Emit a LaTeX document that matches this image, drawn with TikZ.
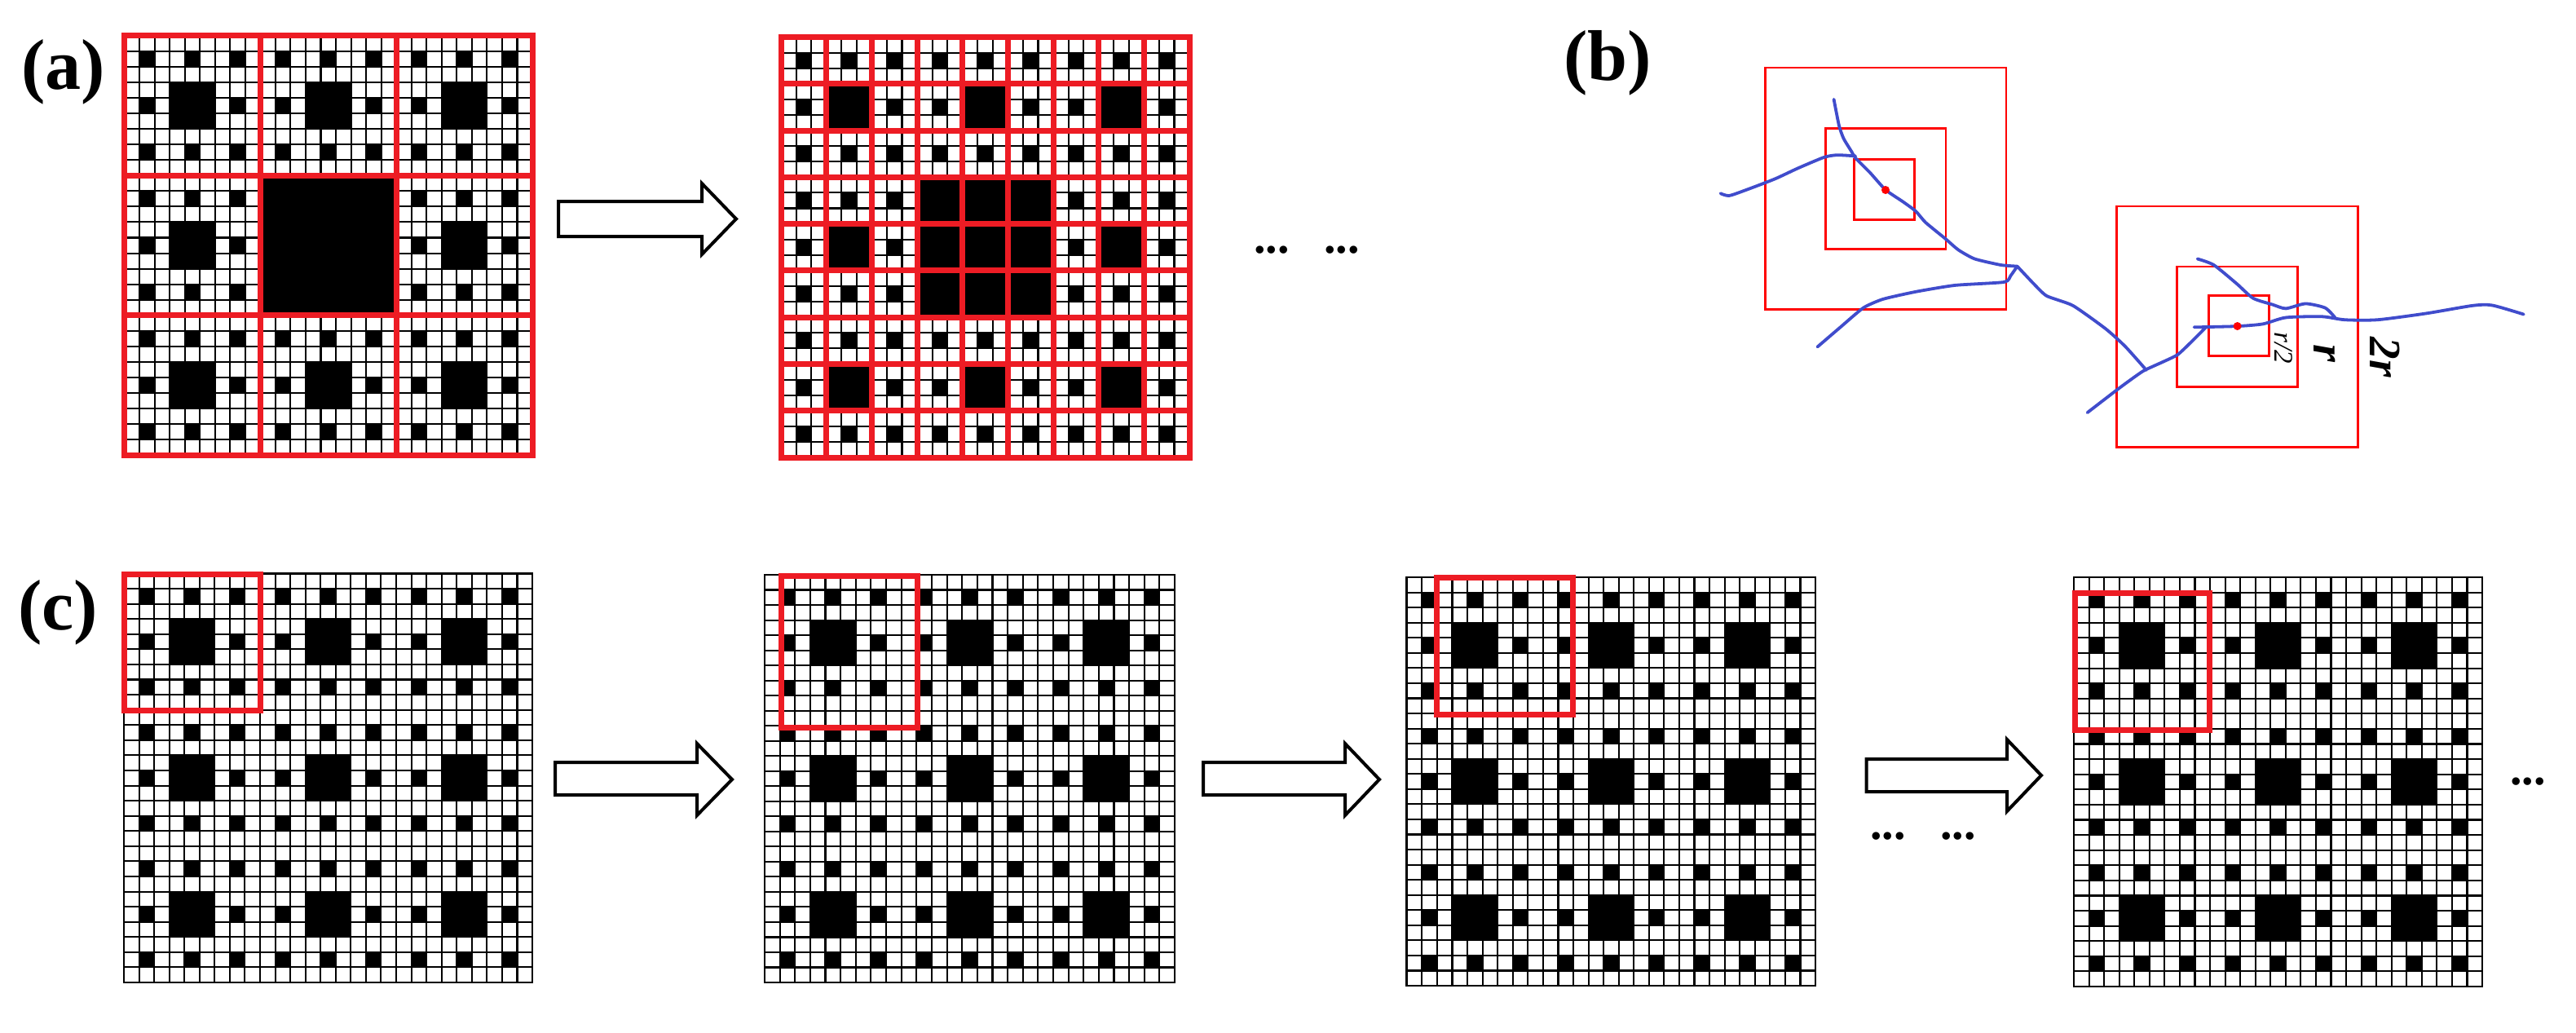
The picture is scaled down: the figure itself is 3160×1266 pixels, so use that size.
\documentclass[tikz,border=0pt]{standalone}
\usepackage{fontspec}
\setmainfont{Liberation Serif}
\definecolor{gridred}{RGB}{237,28,36}
\definecolor{curveblue}{RGB}{64,76,204}
\tikzset{
  gridline/.style={black,line width=1.05pt},
  gridframe/.style={black,line width=1.4pt},
  redthick/.style={gridred,line width=3.5pt,line join=miter},
  redthin/.style={red,line width=1.4pt},
  curve/.style={curveblue,line width=1.9pt,line cap=round,line join=round},
  blockarrow/.style={draw=black,fill=white,line width=2pt,line join=miter,miter limit=4},
  panellabel/.style={inner sep=0pt,anchor=base,font=\fontsize{44}{44}\selectfont\bfseries},
  dotstext/.style={inner sep=0pt,anchor=base,font=\fontsize{29}{29}\selectfont\bfseries},
}
% x0 y0 x1 y1 : carpet of 27 x 27 cells with squares of size 1 and 3
\newcommand\carpetgrid[4]{%
  \pgfmathsetlengthmacro\cellw{(#3-#1)/27*0.5pt}%
  \pgfmathsetlengthmacro\cellh{(#4-#2)/27*0.5pt}%
  \begin{scope}[shift={(#1,#2)},x=\cellw,y=-\cellh]
    \fill[white] (0,0) rectangle (27,27);
    \foreach \i in {1,4,...,25}{\foreach \j in {1,4,...,25}{\fill (\i,\j) rectangle ++(1,1);}}
    \foreach \i in {3,12,21}{\foreach \j in {3,12,21}{\fill (\i,\j) rectangle ++(3,3);}}
    \foreach \i in {1,...,26}{\draw[gridline] (\i,0) -- (\i,27); \draw[gridline] (0,\i) -- (27,\i);}
    \draw[gridframe] (0,0) rectangle (27,27);
  \end{scope}}
% x0 y0 x1 y1 n : n x n red grid
\newcommand\redgrid[5]{%
  \pgfmathsetlengthmacro\cellw{(#3-#1)/#5*0.5pt}%
  \pgfmathsetlengthmacro\cellh{(#4-#2)/#5*0.5pt}%
  \begin{scope}[shift={(#1,#2)},x=\cellw,y=-\cellh]
    \foreach \i in {1,...,\numexpr#5-1\relax}{\draw[redthick] (\i,0) -- (\i,#5); \draw[redthick] (0,\i) -- (#5,\i);}
    \draw[redthick] (0,0) rectangle (#5,#5);
  \end{scope}}
% left neck tip tailtop tailbottom headtop headbottom
\newcommand\bigarrow[7]{%
  \draw[blockarrow] (#1,#4) -- (#2,#4) -- (#2,#6) -- (#3,{(#6+#7)/2}) -- (#2,#7) -- (#2,#5) -- (#1,#5) -- cycle;}
\begin{document}
\begin{tikzpicture}[x=0.5pt,y=-0.5pt]
\useasboundingbox (0,0) rectangle (3160,1266);
\fill[white] (0,0) rectangle (3160,1266);

% panel labels
\node[panellabel] (la) at (78,109) {(a)};
\node[panellabel] (lb) at (1972,98) {(b)};
\node[panellabel] (lc) at (71,772) {(c)};

% (a) left
\carpetgrid{152.5}{43.5}{653}{558.5}
\fill (319.5,215) rectangle (486,386.5);
\redgrid{152.5}{43.5}{653}{558.5}{3}
\bigarrow{685}{861}{903}{247}{290}{225}{312}
% (a) right
\carpetgrid{958}{45.5}{1459}{561}
\fill (1125,217) rectangle (1292,389);
\redgrid{958}{45.5}{1459}{561}{9}
\node[dotstext] (da1) at (1560,310) {...};
\node[dotstext] (da2) at (1646,310) {...};

% (b)
\begin{scope}[shift={(1900,0)},x=0.4018pt,y=-0.1977pt]
  \draw[redthin] (330,210) rectangle (698,960);
  \draw[redthin] (422,398) rectangle (606,772);
  \draw[redthin] (466,495) rectangle (558,682);
  \draw[redthin] (867,640) rectangle (1235,1388);
  \draw[redthin] (959,827) rectangle (1143,1200);
  \draw[redthin] (1007,917) rectangle (1099,1104);
  \draw[curve] plot[smooth,tension=.35] coordinates {(435,308) (443,390) (450,430) (462,470) (468,490) (490,535) (514,589) (540,625) (560,655) (575,690) (605,740) (625,775) (650,803) (690,822) (715,826)};
  \draw[curve] plot[smooth,tension=.35] coordinates {(715,826) (740,880) (760,918) (800,948) (850,1020) (880,1075) (912,1148)};
  \draw[curve] plot[smooth,tension=.4] coordinates {(262,600) (275,607) (300,590) (345,555) (380,522) (420,488) (440,481) (468,484)};
  \draw[curve] plot[smooth,tension=.35] coordinates {(410,1076) (445,1015) (480,955) (510,928) (560,905) (620,885) (695,875) (705,855) (715,826)};
  \draw[curve] plot[smooth,tension=.25] coordinates {(822,1280) (870,1205) (908,1150) (960,1100) (1003,1015)};
  \draw[curve] plot[smooth,tension=.4] coordinates {(985,1015) (1050,1012) (1090,1005) (1125,985) (1180,982) (1215,992) (1265,992) (1340,972) (1410,948) (1440,947) (1488,975)};
  \draw[curve] plot[smooth,tension=.4] coordinates {(990,803) (1015,822) (1050,880) (1075,925) (1105,945) (1125,957) (1155,942) (1185,955) (1200,985)};
\end{scope}
\fill[red] (2313,233) circle[radius=5];
\fill[red] (2744.6,400) circle[radius=5];
\node[inner sep=0pt,rotate=-90,font=\fontsize{16.5}{16.5}\selectfont\itshape] (lr2) at (2801,426.5) {r/2};
\node[inner sep=0pt,rotate=-90,font=\fontsize{28}{28}\selectfont\bfseries\itshape] (lr) at (2852,433.5) {r};
\node[inner sep=0pt,rotate=-90,font=\fontsize{27.5}{27.5}\selectfont\bfseries\itshape] (l2r) at (2926,438) {2r};

% (c)
\carpetgrid{152}{703.5}{653}{1205}
\draw[redthick] (152.5,704) rectangle (319,871);
\bigarrow{681}{855}{898}{935}{975}{912}{1000}
\carpetgrid{938}{705}{1441}{1205}
\draw[redthick] (958.5,706) rectangle (1125.5,892);
\bigarrow{1476}{1650}{1692}{935}{975}{912}{1000}
\carpetgrid{1725.8}{708}{2227}{1209}
\draw[redthick] (1762,708) rectangle (1929.5,876);
\bigarrow{2289.5}{2462}{2504}{931}{971}{907}{995}
\node[dotstext] (dc1) at (2316,1029) {...};
\node[dotstext] (dc2) at (2402,1029) {...};
\carpetgrid{2544}{708}{3045}{1210}
\draw[redthick] (2545,727) rectangle (2710,895);
\node[dotstext] (dc3) at (3101,962) {...};
\end{tikzpicture}
\end{document}
